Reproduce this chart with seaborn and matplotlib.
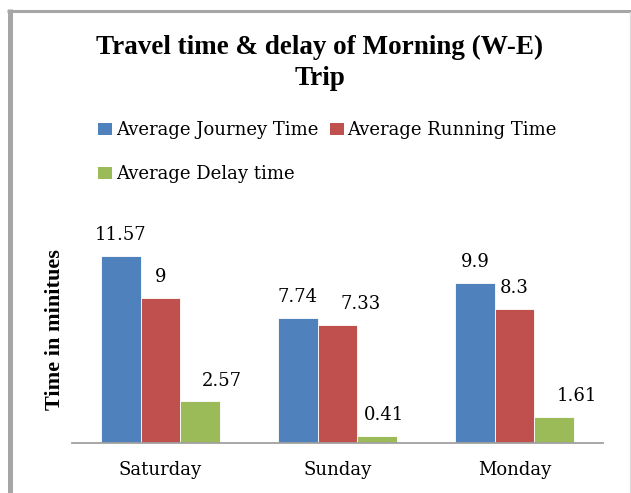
import pandas as pd
import seaborn as sns
import matplotlib.pyplot as plt
from matplotlib.patches import Patch
from matplotlib.lines import Line2D

# chart data
days = ['Saturday', 'Sunday', 'Monday']
series = ['Average Journey Time', 'Average Running Time', 'Average Delay time']
journey_time = [11.57, 7.74, 9.9]
running_time = [9, 7.33, 8.3]
delay_time = [2.57, 0.41, 1.61]
value_text = [['11.57', '7.74', '9.9'], ['9', '7.33', '8.3'], ['2.57', '0.41', '1.61']]

colors = ['#4F81BD', '#C0504D', '#9BBB59']
# small sideways nudges of the value labels (pixels), like excel does
label_shift = [[0, 0, 0], [0, 23, 0], [22, 7, 23]]

df = pd.DataFrame({
    'Day': days * 3,
    'Series': [s for s in series for _ in days],
    'Minutes': journey_time + running_time + delay_time,
})

sns.set_style('white')
plt.rcParams['font.family'] = ['DejaVu Serif']
plt.rcParams['text.color'] = 'black'
plt.rcParams['xtick.color'] = 'black'
plt.rcParams['axes.labelcolor'] = 'black'

fig = plt.figure(figsize=(6.31, 4.93), dpi=100)
W, H = 631, 493
ax = fig.add_axes([72 / W, 50 / H, 531 / W, 210 / H])

sns.barplot(data=df, x='Day', y='Minutes', hue='Series', hue_order=series,
            palette=colors, saturation=1, width=0.67, edgecolor='white',
            linewidth=0.6, legend=False, ax=ax)

ax.set_xlim(-0.5, 2.5)
ax.set_ylim(0, 13)
ax.set_yticks([])
ax.set_xlabel('')
for side in ['left', 'right', 'top']:
    ax.spines[side].set_visible(False)
ax.spines['bottom'].set_color('#a0a0a0')
ax.spines['bottom'].set_linewidth(1.3)
ax.tick_params(axis='x', length=0, pad=13, labelsize=13)

ax.set_ylabel('Time in minitues', family='Liberation Serif', fontweight='bold',
              fontsize=16, va='center')
ax.yaxis.set_label_coords((55 - 72) / 531, 0.538)

# value labels above each bar
for i, cont in enumerate(ax.containers):
    for j, bar in enumerate(cont):
        ax.annotate(value_text[i][j],
                    (bar.get_x() + bar.get_width() / 2, bar.get_height()),
                    xytext=(label_shift[i][j] * 0.72, 11.5), textcoords='offset points',
                    ha='center', va='baseline', fontsize=13)

# legend, excel style: two items on top row, one below
handles = [Patch(facecolor=c, edgecolor='none') for c in colors]
order = [0, 2, 1]
fig.legend([handles[k] for k in order], [series[k] for k in order],
           loc='upper left', bbox_to_anchor=(98 / W, 1 - 121 / H), ncol=2,
           frameon=False, fontsize=13, borderpad=0, borderaxespad=0,
           handlelength=0.78, handleheight=0.67, handletextpad=0.2,
           labelspacing=1.45, columnspacing=0.65)

fig.text(320 / W, 1 - 35 / H, 'Travel time & delay of Morning (W-E)\nTrip',
         ha='center', va='top', family='Liberation Serif', fontweight='bold',
         fontsize=19.5, linespacing=1.3)

# grey chart frame
fig.add_artist(Line2D([9.5 / W, 9.5 / W], [0, 1 - 9 / H], transform=fig.transFigure,
                      color='#a6a6a6', lw=3.6, solid_capstyle='butt'))
fig.add_artist(Line2D([7 / W, 1], [1 - 10.5 / H, 1 - 10.5 / H], transform=fig.transFigure,
                      color='#a6a6a6', lw=2.2, solid_capstyle='butt'))
fig.add_artist(Line2D([629.5 / W, 629.5 / W], [0, 1 - 12 / H], transform=fig.transFigure,
                      color='#d9d9d9', lw=0.8))

fig.savefig('out.png', dpi=100, facecolor='white')
